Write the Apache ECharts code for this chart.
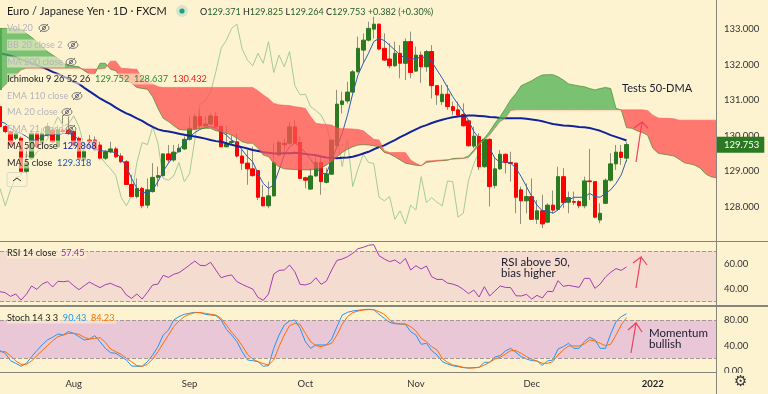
<!DOCTYPE html>
<html>
<head>
<meta charset="utf-8">
<title>EUR/JPY</title>
<script src="https://cdn.jsdelivr.net/npm/echarts@6/dist/echarts.min.js"></script>
<style>
  html, body { margin: 0; padding: 0; background: #fef3d1; }
  #chart { width: 768px; height: 394px; }
</style>
</head>
<body>
<div id="chart"></div>
<script>
// daily candles
const opens = [
  130.82,130.26,130.12,129.93,129.93,129.00,129.37,130.07,129.79,130.02,
  130.16,129.69,130.16,130.16,130.12,129.93,129.32,129.88,129.88,129.74,
  129.37,129.55,129.63,129.43,129.27,128.63,128.29,128.52,128.05,128.43,
  128.83,128.88,129.49,129.32,129.55,129.63,129.90,130.21,130.54,130.28,
  130.33,130.54,130.26,129.69,129.81,129.83,129.43,129.23,129.07,129.02,
  128.27,128.03,128.31,129.46,129.79,129.79,130.25,129.81,128.82,128.50,
  128.87,129.25,128.69,128.92,129.72,130.88,130.98,131.23,131.80,132.41,
  132.69,133.00,133.14,132.46,132.16,131.97,132.32,132.04,132.65,131.82,
  132.27,131.94,132.37,131.41,130.96,131.17,130.82,130.73,130.60,130.42,
  129.71,129.98,129.13,129.90,128.60,129.07,129.48,129.25,129.23,128.48,
  128.17,128.29,127.65,127.89,127.57,128.05,127.93,128.85,128.13,128.15,
  128.15,128.03,128.73,128.71,127.63,128.10,128.75,129.21,129.54,129.371];
const closes = [
  130.26,130.12,129.74,130.07,129.00,129.23,130.07,129.69,130.07,130.26,
  129.83,130.16,130.12,130.07,129.74,129.34,129.57,129.83,129.60,129.37,
  129.55,129.63,129.41,129.27,128.63,128.29,128.52,128.03,128.48,128.83,
  128.88,129.49,129.32,129.54,129.65,129.90,130.21,130.54,130.28,130.33,
  130.56,130.26,129.69,129.77,129.84,129.43,129.23,129.07,128.88,128.27,
  128.03,128.31,129.25,129.81,129.75,130.25,129.79,128.80,128.75,128.87,
  129.25,128.71,128.93,129.88,130.89,130.98,131.23,131.80,132.46,132.69,
  133.02,133.14,132.44,132.13,131.97,132.32,132.04,132.65,131.78,132.27,
  131.94,132.37,131.41,131.15,131.17,130.82,130.71,130.58,130.28,129.72,
  129.99,129.13,129.90,128.57,129.07,129.48,129.25,129.22,128.27,128.17,
  128.29,127.65,127.89,127.52,128.05,127.91,128.85,128.12,128.26,128.13,
  128.03,128.73,128.71,127.71,127.82,128.75,129.21,129.54,129.39,129.753];
const highs = [
  131.00,130.30,130.16,130.12,129.98,129.69,130.12,130.12,130.21,130.35,
  130.21,130.30,130.58,130.54,130.16,129.98,129.69,130.02,129.98,129.83,
  129.60,129.83,129.69,129.51,129.32,128.90,128.80,128.57,128.80,129.23,
  129.13,129.51,129.74,129.74,129.77,129.98,130.54,130.63,130.73,130.54,
  130.63,130.68,130.30,130.28,130.02,130.07,129.60,129.60,129.69,129.02,
  128.62,128.71,129.79,129.88,129.93,130.40,130.44,129.98,128.85,129.09,
  129.41,129.41,129.09,129.88,131.29,131.24,131.52,131.85,132.79,132.88,
  133.21,133.35,133.16,132.88,132.60,132.65,132.55,132.74,132.93,132.51,
  132.37,132.41,132.55,131.43,131.43,131.43,130.96,130.96,130.91,130.42,
  130.26,130.07,129.93,129.93,129.41,129.60,129.51,129.55,129.23,128.57,
  128.66,128.80,128.19,128.34,128.10,128.46,129.13,129.09,128.43,128.43,
  128.19,128.85,129.63,128.71,128.10,128.80,129.51,129.74,129.74,129.825];
const lows = [
  130.21,130.07,129.69,129.88,128.94,128.94,129.32,129.65,129.74,129.98,
  129.79,129.65,130.07,130.02,129.69,129.32,129.27,129.60,129.58,129.34,
  129.32,129.51,129.37,129.23,128.62,128.27,128.24,127.96,127.96,128.40,
  128.57,128.85,129.23,129.27,129.53,129.60,129.86,130.16,130.21,130.24,
  130.30,130.21,129.68,129.68,129.74,129.39,129.04,128.62,128.85,128.19,
  128.01,127.96,128.29,129.41,129.46,129.74,129.77,128.78,128.52,128.49,
  128.85,128.34,128.66,128.90,129.69,130.63,130.91,131.19,131.78,132.04,
  132.65,132.74,132.41,132.11,131.90,131.94,131.62,131.57,131.62,131.80,
  131.49,131.80,131.05,130.87,130.87,130.73,130.58,130.54,130.26,129.69,
  129.65,129.04,129.10,128.01,128.52,129.04,128.94,128.71,127.82,127.52,
  127.82,127.63,127.52,127.40,127.54,127.82,127.91,127.96,127.82,128.05,
  127.96,127.96,128.19,127.68,127.54,128.08,128.71,129.04,129.18,129.264];

const ma50 = [
  132.32,132.29,132.25,132.21,132.15,132.09,132.04,131.98,131.93,131.87,
  131.80,131.74,131.67,131.60,131.52,131.46,131.35,131.25,131.15,131.05,
  130.97,130.89,130.79,130.71,130.63,130.57,130.49,130.42,130.33,130.25,
  130.18,130.14,130.12,130.09,130.06,130.03,130.00,129.98,129.95,129.92,
  129.88,129.85,129.83,129.79,129.75,129.71,129.68,129.64,129.60,129.57,
  129.54,129.52,129.50,129.50,129.51,129.51,129.52,129.51,129.49,129.47,
  129.45,129.42,129.39,129.38,129.37,129.38,129.39,129.41,129.45,129.50,
  129.55,129.62,129.68,129.73,129.81,129.88,129.96,130.03,130.11,130.18,
  130.25,130.30,130.36,130.41,130.45,130.49,130.52,130.54,130.56,130.57,
  130.57,130.56,130.55,130.53,130.52,130.50,130.49,130.49,130.49,130.49,
  130.48,130.46,130.44,130.41,130.37,130.33,130.31,130.29,130.28,130.27,
  130.25,130.24,130.22,130.18,130.14,130.08,130.02,129.97,129.92,129.868];
const ma5 = [
  130.40,130.35,130.21,130.12,130.07,129.98,129.88,129.88,129.98,130.02,
  130.07,130.02,130.07,130.07,130.02,129.88,129.77,129.69,129.65,129.58,
  129.57,129.55,129.53,129.37,129.13,128.80,128.52,128.40,128.40,128.48,
  128.71,129.00,129.23,129.41,129.60,129.79,129.96,130.09,130.18,130.23,
  130.26,130.21,130.12,130.02,129.88,129.79,129.60,129.41,129.27,128.94,
  128.66,128.52,128.62,129.04,129.46,129.69,129.79,129.69,129.53,129.34,
  129.13,128.93,128.94,129.32,129.69,130.07,130.58,131.19,131.71,132.04,
  132.32,132.65,132.74,132.68,132.55,132.41,132.27,132.18,132.15,132.18,
  132.21,132.21,132.09,131.85,131.62,131.36,131.10,130.89,130.68,130.43,
  130.12,129.93,129.79,129.65,129.37,129.25,129.28,129.23,129.09,128.85,
  128.57,128.29,128.05,127.89,127.89,127.82,127.91,128.10,128.19,128.27,
  128.27,128.27,128.38,128.29,128.27,128.38,128.48,128.66,128.90,129.318];

// ichimoku leading spans run 26 bars past the last candle
const spanA = [
  133.02,133.02,133.02,133.00,133.00,132.88,132.77,132.65,132.51,132.37,
  132.27,132.18,132.04,131.99,131.96,131.94,131.83,131.74,131.74,132.04,
  132.04,131.87,131.83,131.62,131.57,131.48,131.36,131.33,131.31,131.10,
  130.77,130.49,130.40,130.28,130.18,130.16,130.16,130.18,130.20,130.21,
  130.21,130.14,130.11,130.07,130.02,129.93,129.83,129.79,129.79,129.65,
  129.46,129.41,129.23,129.13,129.07,129.06,129.05,129.04,129.04,129.04,
  129.07,129.09,129.18,129.27,129.41,129.53,129.62,129.69,129.74,129.75,
  129.74,129.72,129.69,129.53,129.49,129.41,129.32,129.23,129.20,129.17,
  129.16,129.25,129.27,129.29,129.30,129.31,129.36,129.37,129.37,129.43,
  129.60,129.79,129.93,130.12,130.35,130.54,130.77,131.01,131.19,131.41,
  131.48,131.55,131.64,131.71,131.72,131.72,131.66,131.57,131.46,131.43,
  131.40,131.38,131.33,131.29,131.33,131.36,131.33,130.77,130.73,130.23,
  130.21,130.14,130.09,130.02,129.65,129.51,129.48,129.46,129.43,129.34,
  129.24,129.21,129.17,129.09,128.93,128.85,128.82];
const spanB = [
  131.29,131.43,131.57,131.71,131.85,131.90,131.90,131.90,131.90,131.90,
  131.90,131.90,131.90,131.90,131.90,131.90,131.88,131.88,131.88,131.88,
  131.90,132.10,132.10,131.90,131.89,131.88,131.87,131.62,131.52,131.46,
  131.38,131.36,131.36,131.36,131.36,131.36,131.36,131.36,131.36,131.36,
  131.36,131.36,131.36,131.36,131.36,131.36,131.36,131.36,131.36,131.27,
  131.15,131.05,130.91,130.87,130.86,130.85,130.82,130.80,130.77,130.54,
  130.35,130.33,130.32,130.30,130.22,130.20,130.20,130.19,130.18,130.14,
  130.02,129.90,129.88,129.58,129.53,129.53,129.53,129.53,129.32,129.23,
  129.16,129.29,129.30,129.31,129.32,129.33,129.34,129.35,129.36,129.39,
  129.55,129.74,129.88,130.02,130.21,130.40,130.49,130.71,130.73,130.73,
  130.73,130.73,130.73,130.73,130.73,130.73,130.73,130.73,130.73,130.73,
  130.73,130.73,130.73,130.73,130.73,130.73,130.73,130.73,130.73,130.73,
  130.73,130.73,130.73,130.71,130.58,130.50,130.49,130.49,130.48,130.44,
  130.44,130.44,130.44,130.44,130.44,130.44,130.44];

const rsi = [
  37.9,37.1,34.2,36.1,31.3,35.8,42.4,39.7,43.9,45.8,
  41.6,46.1,45.8,46.3,42.6,39.5,42.6,45.5,43.2,41.1,
  43.4,44.5,42.6,41.1,35.3,32.6,36.1,32.1,37.4,43.2,
  43.9,50.8,49.2,51.6,52.9,55.8,58.9,62.1,58.7,58.4,
  61.1,55.0,48.9,50.3,51.1,45.8,43.7,41.8,40.0,33.4,
  31.1,36.1,51.8,54.7,55.0,58.9,53.7,43.7,43.2,44.5,
  48.9,43.7,46.3,55.0,62.6,63.7,65.5,68.2,71.8,72.9,
  74.5,75.0,66.3,63.7,61.6,62.9,60.0,64.2,55.0,58.4,
  55.8,58.2,49.7,47.6,47.6,44.7,43.9,42.4,39.7,36.3,
  39.2,33.7,41.8,34.5,38.4,42.4,41.3,41.1,34.7,34.5,
  35.8,32.1,35.0,32.9,38.2,37.9,46.6,42.1,42.9,42.1,
  41.3,48.4,48.4,40.5,43.9,49.5,53.2,56.1,54.7,57.45];
const stochK = [
  32.1,27.9,16.3,12.1,7.4,12.1,22.6,32.1,41.1,48.9,
  53.2,58.4,56.8,62.1,59.5,54.2,48.9,50.5,55.8,46.3,
  35.8,28.9,27.9,22.6,17.4,7.9,7.4,7.4,14.7,25.3,
  38.4,56.8,64.7,80.5,85.8,89.5,91.1,92.6,92.1,89.5,
  88.4,87.4,80.5,65.8,56.8,46.3,30.5,17.4,16.3,14.7,
  7.4,8.4,35.8,56.8,72.6,78.9,80.5,67.4,46.3,35.8,
  41.1,41.1,41.1,50.5,70.0,88.4,92.6,94.7,95.8,96.8,
  97.4,96.8,89.5,83.2,76.8,74.7,74.2,73.7,62.1,56.8,
  42.1,43.7,32.1,25.3,14.7,11.1,8.4,6.8,5.3,4.7,
  5.3,5.8,13.7,13.7,22.1,24.2,31.6,35.8,29.5,22.6,
  18.9,16.3,15.8,8.9,15.8,17.4,34.7,38.4,43.7,35.8,
  35.8,46.3,53.2,48.9,35.8,35.8,58.4,77.9,85.8,90.43];
const stochD = [
  30.5,30.5,24.2,15.8,10.5,10.5,15.8,24.2,32.1,40.0,
  47.4,54.2,56.8,59.5,59.5,57.9,53.2,50.5,51.6,52.6,
  45.3,34.7,30.5,26.3,20.0,14.7,8.4,7.4,10.5,18.9,
  30.5,43.7,56.8,70.0,78.9,85.8,89.5,92.1,92.1,91.1,
  89.5,88.4,83.2,72.6,61.1,51.6,40.0,26.3,18.9,14.7,
  11.6,9.5,17.4,38.4,56.8,71.6,75.3,73.7,59.5,46.3,
  40.0,38.4,41.1,43.7,56.8,73.7,85.8,92.1,94.7,96.3,
  96.8,96.8,93.7,89.5,80.5,75.3,74.2,74.2,70.0,63.2,
  51.6,46.3,38.4,33.2,20.0,13.7,9.5,7.9,5.8,4.7,
  4.7,5.8,9.5,13.7,18.9,21.6,26.8,32.1,32.1,27.9,
  22.6,18.4,15.8,12.1,12.1,14.7,25.3,33.2,39.5,39.5,
  39.5,42.6,48.9,47.4,43.7,40.0,42.1,56.8,72.6,84.23];

const priceTicks = [128, 129, 130, 131, 132, 133];
const rsiTicks = [40, 60];
const stochTicks = [0, 40, 80];
const rsiBand = [30, 70];
const stochBand = [20, 80];
const monthLabels = ['Aug', 'Sep', 'Oct', 'Nov', 'Dec', '2022'];
const monthBars = [14, 36, 58, 79, 101, 124];

const BG = '#fef3d1';
const GREEN = '#2b7a22';
const RED = '#ff0000';
const LINE = '#85857c';
const barCount = spanA.length;

// category per bar, blank unless a month starts there
const categories = spanA.map((v, i) => {
  const at = monthBars.indexOf(i);
  return at >= 0 ? monthLabels[at] : 'b' + i;
});

// lagging span is the close moved back 26 bars
const lagging = closes.slice(26);

const wicks = opens.map((o, i) => [o, closes[i], lows[i], highs[i]]);
const bodies = opens.map((o, i) => {
  const c = closes[i];
  return [o, c, Math.min(o, c), Math.max(o, c)];
});

// split the cloud into runs of one colour
const cloudRuns = [];
for (let i = 0; i < barCount; i++) {
  const up = spanA[i] >= spanB[i];
  const last = cloudRuns[cloudRuns.length - 1];
  if (last && last.up === up) last.to = i;
  else cloudRuns.push({ from: i, to: i, up: up });
}

function crossPoint(api, i) {
  const d0 = spanA[i] - spanB[i];
  const d1 = spanA[i + 1] - spanB[i + 1];
  const t = d0 / (d0 - d1);
  const p0 = api.coord([i, spanA[i]]);
  const p1 = api.coord([i + 1, spanA[i + 1]]);
  return [p0[0] + (p1[0] - p0[0]) * t, p0[1] + (p1[1] - p0[1]) * t];
}

function renderCloud(params, api) {
  const run = cloudRuns[params.dataIndex];
  const pts = [];
  if (run.from > 0) pts.push(crossPoint(api, run.from - 1));
  for (let i = run.from; i <= run.to; i++) pts.push(api.coord([i, spanA[i]]));
  if (run.to < barCount - 1) pts.push(crossPoint(api, run.to));
  for (let i = run.to; i >= run.from; i--) pts.push(api.coord([i, spanB[i]]));
  return {
    type: 'polygon',
    shape: { points: pts },
    style: { fill: run.up ? 'rgba(76,175,80,0.74)' : 'rgba(255,82,82,0.76)' },
  };
}

function lineSeries(name, data, color, width, extra) {
  return Object.assign({
    name: name,
    type: 'line',
    data: data,
    symbol: 'none',
    silent: true,
    lineStyle: { color: color, width: width },
  }, extra);
}

function band(range, color) {
  return {
    markArea: {
      silent: true,
      itemStyle: { color: color },
      data: [[{ yAxis: range[1] }, { yAxis: range[0] }]],
    },
    markLine: {
      silent: true,
      symbol: 'none',
      label: { show: false },
      lineStyle: { color: '#a3978f', type: 'dashed', width: 1 },
      data: range.map((v) => ({ yAxis: v })),
    },
  };
}

const FONT = 'Lato, sans-serif';
const MUTED = '#b4b3bc';

function legendText(y, text, rich) {
  return {
    type: 'text',
    z: 100,
    style: {
      x: 7, y: y, text: text, rich: rich,
      font: '9.2px ' + FONT, fill: '#222',
      verticalAlign: 'middle',
      backgroundColor: 'rgba(254,243,209,0.6)',
      padding: [1, 2, 1, 0],
    },
  };
}

// crossed-out eye next to hidden indicators
function eye(x, y) {
  const stroke = { stroke: '#77767c', fill: 'none', lineWidth: 1 };
  return {
    type: 'group', x: x, y: y, z: 100,
    children: [
      { type: 'ellipse', z: 100, shape: { cx: 0, cy: 0, rx: 5, ry: 3.4 }, style: stroke },
      { type: 'circle', z: 100, shape: { cx: 0, cy: 0, r: 1.6 }, style: stroke },
      { type: 'line', z: 100, shape: { x1: -4, y1: 4, x2: 4, y2: -4 }, style: stroke },
    ],
  };
}

function chrome(x1, y1, x2, y2, width) {
  return {
    type: 'line', z: 90,
    shape: { x1: x1, y1: y1, x2: x2, y2: y2 },
    style: { stroke: LINE, lineWidth: width },
  };
}

function arrow(tail, tip, left, right) {
  return {
    type: 'polyline', z: 95,
    shape: { points: [tail, tip, left, tip, right] },
    style: { stroke: '#f0405a', lineWidth: 1.2, fill: 'none' },
  };
}

function note(x, y, text, size) {
  return {
    type: 'text', z: 95,
    style: { x: x, y: y, text: text, font: size + 'px ' + FONT, fill: '#1c1a2e', lineHeight: 11 },
  };
}

const graphics = [
  chrome(716.5, 0, 716.5, 394, 1),
  chrome(0, 241.5, 768, 241.5, 1),
  chrome(0, 306, 768, 306, 2),
  chrome(0, 372.5, 716, 372.5, 1),
  // hides the lower half of the 0.00 label like the reference
  { type: 'rect', z: 92, shape: { x: 717, y: 373, width: 51, height: 21 }, style: { fill: BG } },
  {
    type: 'text', z: 100,
    style: { x: 734, y: 375, text: '\u2699', font: '15px "DejaVu Sans"', fill: '#333' },
  },
  {
    type: 'text', z: 100,
    style: { x: 7, y: 11, text: 'Euro / Japanese Yen \u00b7 1D \u00b7 FXCM', font: '11px Lato', fill: '#222', verticalAlign: 'middle' },
  },
  { type: 'circle', z: 100, shape: { cx: 182, cy: 11, r: 6 }, style: { fill: 'rgba(38,166,154,0.18)' } },
  { type: 'circle', z: 100, shape: { cx: 182, cy: 11, r: 2.6 }, style: { fill: '#1f9e8f' } },
  {
    type: 'text', z: 100,
    style: {
      x: 200, y: 12, verticalAlign: 'middle', font: '9px ' + FONT, fill: '#222',
      text: '{k|O}{v|129.371} {k|H}{v|129.825} {k|L}{v|129.264} {k|C}{v|129.753} {v|+0.382 (+0.30%)}',
      rich: {
        k: { fill: '#222', font: '9px ' + FONT },
        v: { fill: '#24612a', font: '9px ' + FONT },
      },
    },
  },
  legendText(28, '{m|Vol 20}', { m: { fill: MUTED } }),
  eye(44, 28),
  legendText(45, '{m|BB 20 close 2}', { m: { fill: MUTED } }),
  eye(73, 45),
  legendText(62, '{m|MA 200 close}', { m: { fill: MUTED } }),
  eye(71, 62),
  legendText(79, 'Ichimoku 9 26 52 26  {g|129.752}  {g|128.637}  {r|130.432}', {
    g: { fill: '#2e8b2e' }, r: { fill: '#f01818' },
  }),
  legendText(96, '{m|EMA 110 close}', { m: { fill: MUTED } }),
  eye(77, 96),
  legendText(112, '{m|MA 20 close}', { m: { fill: MUTED } }),
  eye(67, 112),
  legendText(129, '{m|EMA 21 close}', { m: { fill: MUTED } }),
  eye(71, 129),
  legendText(146, 'MA 50 close  {b|129.868}', { b: { fill: '#14269b' } }),
  legendText(163, 'MA 5 close  {b|129.318}', { b: { fill: '#1d56b0' } }),
  {
    type: 'rect', z: 100,
    shape: { x: 7, y: 172.5, width: 20, height: 14, r: 2 },
    style: { fill: 'rgba(254,243,209,0.6)', stroke: '#dcd8c8' },
  },
  {
    type: 'polyline', z: 100,
    shape: { points: [[13, 181], [17, 178], [21, 181]] },
    style: { stroke: '#333', fill: 'none' },
  },
  legendText(253, 'RSI 14 close  {p|57.45}', { p: { fill: '#9c27b0' } }),
  legendText(318, 'Stoch 14 3 3  {b|90.43}  {o|84.23}', { b: { fill: '#2196f3' }, o: { fill: '#ff6d00' } }),
  note(622, 83, 'Tests 50-DMA', 11),
  note(501, 257, 'RSI above 50,\nbias higher', 11.5),
  note(649, 328, 'Momentum\nbullish', 11.5),
  arrow([636, 162], [642, 122], [634, 128], [648, 128]),
  arrow([636, 288], [641, 257], [633, 263], [647, 265]),
  arrow([631, 353], [636, 323], [628, 330], [642, 332]),
];

const hiddenX = {
  type: 'category', data: categories, boundaryGap: false,
  axisLine: { show: false }, axisTick: { show: false }, axisLabel: { show: false },
};

function valueAxis(gridIndex, min, max, ticks, digits) {
  return {
    type: 'value',
    gridIndex: gridIndex,
    position: 'right',
    min: min,
    max: max,
    axisLine: { show: false },
    axisTick: { show: false },
    splitLine: { show: false },
    axisLabel: {
      customValues: ticks,
      margin: 8,
      color: '#333',
      fontFamily: 'Lato',
      fontSize: 9.5,
      formatter: (v) => v.toFixed(digits),
    },
  };
}

const option = {
  animation: false,
  backgroundColor: BG,
  grid: [
    { left: 0, right: 52, top: 0, height: 241 },
    { left: 0, right: 52, top: 241, height: 65 },
    { left: 0, right: 52, top: 306, height: 66 },
  ],
  xAxis: [
    Object.assign({ gridIndex: 0 }, hiddenX),
    Object.assign({ gridIndex: 1 }, hiddenX),
    Object.assign({}, hiddenX, {
      gridIndex: 2,
      axisLabel: {
        show: true,
        interval: (i) => monthBars.indexOf(i) >= 0,
        margin: 7,
        color: '#333',
        fontFamily: 'Lato',
        fontSize: 9.5,
        formatter: (v) => (v === '2022' ? '{y|2022}' : v),
        rich: { y: { fontWeight: 'bold', fontSize: 9.5, color: '#222', fontFamily: 'Lato' } },
      },
    }),
  ],
  yAxis: [
    valueAxis(0, 127.04, 133.82, priceTicks, 3),
    valueAxis(1, 26.6, 77.9, rsiTicks, 2),
    valueAxis(2, -1.6, 102.6, stochTicks, 2),
  ],
  series: [
    lineSeries('Lagging', lagging, '#a3cb97', 1, { z: 1 }),
    {
      name: 'Wicks',
      type: 'candlestick',
      data: wicks,
      barWidth: 1,
      z: 2,
      silent: true,
      itemStyle: { color: '#8f8f7c', color0: '#8f8f7c', borderColor: '#8f8f7c', borderColor0: '#8f8f7c', borderWidth: 1 },
    },
    {
      name: 'EURJPY',
      type: 'candlestick',
      data: bodies,
      barWidth: 4,
      z: 3,
      silent: true,
      itemStyle: { color: GREEN, color0: RED, borderColor: GREEN, borderColor0: RED, borderWidth: 1 },
      markLine: {
        silent: true,
        symbol: 'none',
        lineStyle: { width: 0, color: 'transparent' },
        label: {
          position: 'end',
          distance: 0,
          formatter: () => closes[closes.length - 1].toFixed(3),
          color: '#fff',
          fontFamily: 'Lato',
          fontSize: 9.5,
          backgroundColor: '#2b7a22',
          padding: [3, 5, 3, 8],
        },
        data: [{ yAxis: closes[closes.length - 1] }],
      },
    },
    lineSeries('MA 5', ma5, '#2a5db0', 1, { z: 4 }),
    lineSeries('MA 50', ma50, '#12239a', 2, { z: 4 }),
    {
      name: 'Cloud',
      type: 'custom',
      z: 5,
      silent: true,
      clip: true,
      renderItem: renderCloud,
      encode: { x: 0, y: 1 },
      data: cloudRuns.map((r) => [r.from, spanA[r.from]]),
    },
    lineSeries('Span A', spanA, 'rgba(70,140,50,0.7)', 1, {
      z: 6,
      // the span drops in from before the first visible bar
      markLine: {
        silent: true,
        symbol: 'none',
        label: { show: false },
        lineStyle: { color: '#5a9e4c', width: 3, type: 'solid' },
        data: [[{ xAxis: 0, yAxis: spanA[0] }, { xAxis: 0, yAxis: spanB[0] }]],
      },
    }),
    lineSeries('Span B', spanB, 'rgba(255,82,82,0.5)', 1, { z: 6 }),
    Object.assign(
      lineSeries('RSI', rsi, '#a23cb4', 1, { xAxisIndex: 1, yAxisIndex: 1, z: 3 }),
      band(rsiBand, '#f5dcd1')
    ),
    Object.assign(
      lineSeries('%K', stochK, '#2196f3', 1, { xAxisIndex: 2, yAxisIndex: 2, z: 3 }),
      band(stochBand, '#e9c7d6')
    ),
    lineSeries('%D', stochD, '#ff6d00', 1, { xAxisIndex: 2, yAxisIndex: 2, z: 4 }),
  ],
  graphic: graphics,
};

const myChart = echarts.init(document.getElementById('chart'));
myChart.setOption(option);
</script>
</body>
</html>
